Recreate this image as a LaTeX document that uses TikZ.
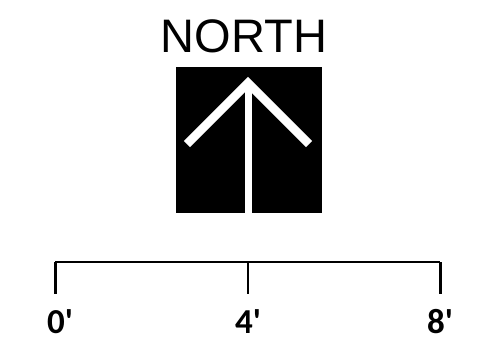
\documentclass[tikz,border=0pt]{standalone}
\usepackage{fontspec}
\setmainfont{Liberation Sans}
\newfontfamily\lblfont{Carlito}
\begin{document}
\begin{tikzpicture}[x=1pt,y=-1pt,
  title/.style={inner sep=0pt, font=\fontsize{47}{50}\selectfont},
  lbl/.style={inner sep=0pt, font=\lblfont\bfseries\fontsize{35}{38}\selectfont},
  tick/.style={line width=3pt},
  arm/.style={white, line width=8.5pt}]
\useasboundingbox (0,0) rectangle (486,346);
\node[title] (north) at (244,36) {NORTH};
\node[fill=black, minimum width=146pt, minimum height=146pt, inner sep=0pt] (box) at (249,140) {};
\coordinate (apex) at (248,83);
\coordinate (la) at (187,144);
\coordinate (ra) at (309,144);
\coordinate (foot) at (248,213);
\draw[arm] (la) -- (apex) -- (ra);
\draw[white, line width=7pt] (apex) -- (foot);
\coordinate (s0) at (55,262);
\coordinate (s4) at (248,262);
\coordinate (s8) at (440,262);
\coordinate (b0) at (55,294);
\coordinate (b4) at (248,294);
\coordinate (b8) at (440,294);
\draw[line width=2pt] (s0) -- (s8);
\draw[tick] (s0) -- (b0);
\draw[line width=2pt] (s4) -- (b4);
\draw[tick] (s8) -- (b8);
\node[lbl, anchor=base] (l0) at (60,333) {0'};
\node[lbl, anchor=base] (l4) at (248,333) {4'};
\node[lbl, anchor=base] (l8) at (440,333) {8'};
\end{tikzpicture}
\end{document}
